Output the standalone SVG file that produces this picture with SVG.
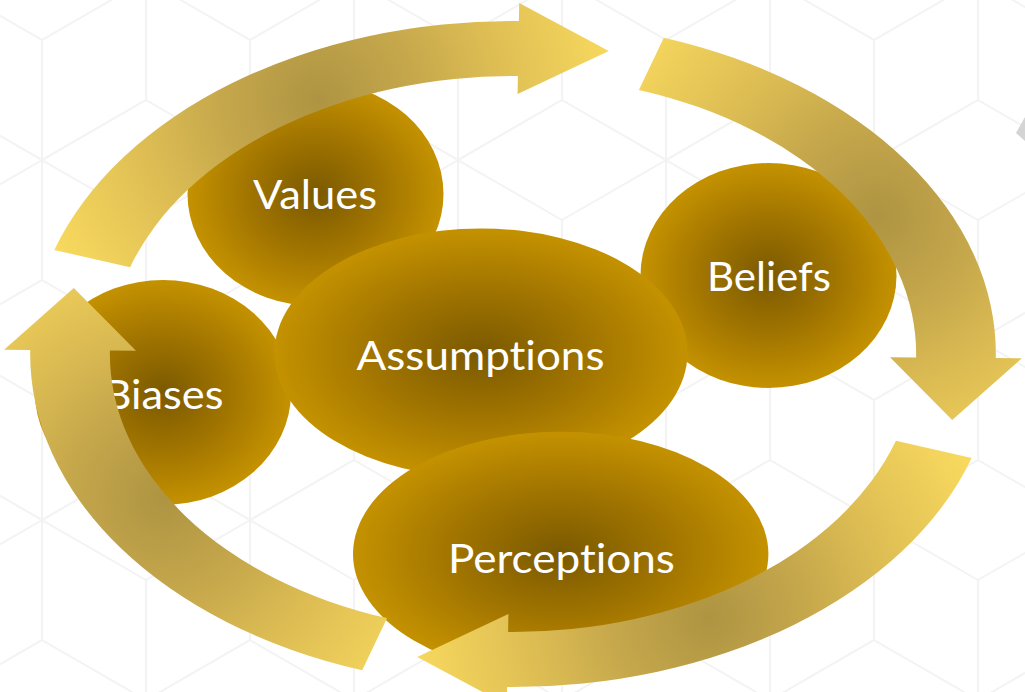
<svg xmlns="http://www.w3.org/2000/svg" width="1025" height="692" viewBox="0 0 1025 692">
  <style>
    .label { font-family: Lato, "Open Sans", "Liberation Sans", sans-serif; font-size: 40px; fill: #ffffff; text-anchor: middle; font-variant-ligatures: none; }
    .grid { fill: none; stroke: #f3f3f3; stroke-width: 2; }
  </style>
  <defs>
    <radialGradient id="gNode" cx="0.5" cy="0.5" r="0.5">
      <stop offset="0" stop-color="#7a5900"/>
      <stop offset="0.55" stop-color="#a37600"/>
      <stop offset="1" stop-color="#c49200"/>
    </radialGradient>
    <radialGradient id="gTop" gradientUnits="userSpaceOnUse" cx="318" cy="100" r="300">
      <stop offset="0" stop-color="#ae9442"/>
      <stop offset="0.3" stop-color="#c4a64b"/>
      <stop offset="0.62" stop-color="#dfbf54"/>
      <stop offset="1" stop-color="#f8d95e"/>
    </radialGradient>
    <radialGradient id="gRight" gradientUnits="userSpaceOnUse" cx="877" cy="216" r="300">
      <stop offset="0" stop-color="#ae9442"/>
      <stop offset="0.3" stop-color="#c4a64b"/>
      <stop offset="0.62" stop-color="#dfbf54"/>
      <stop offset="1" stop-color="#f8d95e"/>
    </radialGradient>
    <radialGradient id="gBottom" gradientUnits="userSpaceOnUse" cx="709" cy="617" r="300">
      <stop offset="0" stop-color="#ae9442"/>
      <stop offset="0.3" stop-color="#c4a64b"/>
      <stop offset="0.62" stop-color="#dfbf54"/>
      <stop offset="1" stop-color="#f8d95e"/>
    </radialGradient>
    <radialGradient id="gLeft" gradientUnits="userSpaceOnUse" cx="163" cy="498" r="300">
      <stop offset="0" stop-color="#ae9442"/>
      <stop offset="0.3" stop-color="#c4a64b"/>
      <stop offset="0.62" stop-color="#dfbf54"/>
      <stop offset="1" stop-color="#f8d95e"/>
    </radialGradient>
    <pattern id="cubes" patternUnits="userSpaceOnUse" width="208" height="360" patternTransform="translate(42,40)">
      <path class="grid" d="M0,-120 L104,-60 L104,60 L0,120 L-104,60 L-104,-60Z M0,0 L0,120 M0,0 L104,-60 M0,0 L-104,-60
        M208,-120 L312,-60 L312,60 L208,120 L104,60 L104,-60Z M208,0 L208,120 M208,0 L312,-60 M208,0 L104,-60
        M104,60 L208,120 L208,240 L104,300 L0,240 L0,120Z M104,180 L104,300 M104,180 L208,120 M104,180 L0,120
        M0,240 L104,300 L104,420 L0,480 L-104,420 L-104,300Z M0,360 L0,480 M0,360 L104,300 M0,360 L-104,300
        M208,240 L312,300 L312,420 L208,480 L104,420 L104,300Z M208,360 L208,480 M208,360 L312,300 M208,360 L104,300
        M104,-300 L208,-240 L208,-120 L104,-60 L0,-120 L0,-240Z M104,-180 L104,-60 M104,-180 L208,-240 M104,-180 L0,-240"/>
    </pattern>
  </defs>

  <g id="background">
    <rect x="0" y="0" width="1025" height="692" fill="#ffffff"/>
    <rect x="0" y="0" width="1025" height="692" fill="url(#cubes)"/>
    <polygon points="1025,117 1016,133 1025,141" fill="#d4d4d4"/>
  </g>

  <g id="node-values">
    <ellipse cx="315.5" cy="194" rx="128" ry="112" fill="url(#gNode)"/>
    <text class="label" x="315" y="209" textLength="124" lengthAdjust="spacingAndGlyphs">Values</text>
  </g>
  <g id="node-biases">
    <ellipse cx="163" cy="392.5" rx="128" ry="112.5" fill="url(#gNode)"/>
    <text class="label" x="163.5" y="409" textLength="120" lengthAdjust="spacingAndGlyphs">Biases</text>
  </g>
  <g id="node-beliefs">
    <ellipse cx="768.5" cy="275.5" rx="128" ry="112.5" fill="url(#gNode)"/>
    <text class="label" x="769" y="291" textLength="124" lengthAdjust="spacingAndGlyphs">Beliefs</text>
  </g>
  <g id="node-assumptions">
    <ellipse cx="481" cy="353" rx="206.5" ry="124.6" fill="url(#gNode)"/>
    <text class="label" x="480.5" y="369.5" textLength="248" lengthAdjust="spacingAndGlyphs">Assumptions</text>
  </g>
  <g id="node-perceptions">
    <ellipse cx="560.7" cy="554" rx="207.7" ry="122.3" fill="url(#gNode)"/>
    <text class="label" x="561.4" y="572.7" textLength="227" lengthAdjust="spacingAndGlyphs">Perceptions</text>
  </g>

  <g id="connectors">
    <path id="arrow-top" fill="url(#gTop)" d="M54.3,250 A483,333 0 0 1 518.9,21 L519.2,3 L608.8,51.1 L517.6,94 L517.9,76 A403.1,278 0 0 0 130.1,267.2 Z"/>
    <path id="arrow-right" fill="url(#gRight)" d="M663.8,37.7 A483,333 0 0 1 995.8,358.1 L1021.9,358.3 L952.2,420 L890,357.2 L916.1,357.4 A403.1,278 0 0 0 638.9,89.9 Z"/>
    <path id="arrow-bottom" fill="url(#gBottom)" d="M971.7,458 A483,333 0 0 1 507.1,687 L506.8,705 L417.2,656.9 L508.4,614 L508.1,632 A403.1,278 0 0 0 895.9,440.8 Z"/>
    <path id="arrow-left" fill="url(#gLeft)" d="M362.2,670.3 A483,333 0 0 1 30.2,349.9 L4.1,349.7 L73.8,288 L136,350.8 L109.9,350.6 A403.1,278 0 0 0 387.1,618.1 Z"/>
  </g>
</svg>
